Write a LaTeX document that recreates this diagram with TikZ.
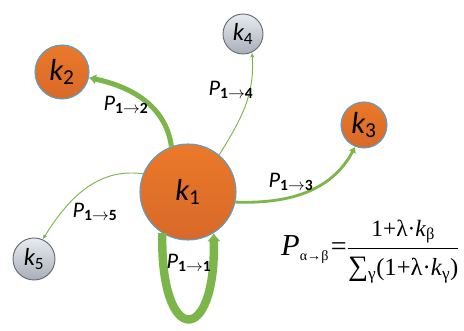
\documentclass[tikz,border=0pt]{standalone}
\usepackage{amsmath}
\usepackage{fontspec}
\setmainfont{Liberation Serif}
\newfontfamily\labfont{Carlito}
\usetikzlibrary{arrows.meta}
\usepackage{xcolor}
\definecolor{edgegreen}{RGB}{124,182,74}
\definecolor{ballorange}{RGB}{234,114,44}
\definecolor{ballrim}{RGB}{84,160,206}
\definecolor{greyrim}{RGB}{100,106,116}
\definecolor{greytop}{RGB}{232,235,240}
\definecolor{greybottom}{RGB}{168,174,186}
\newcommand{\kname}[1]{{\itshape k}\textsubscript{#1}}
\newcommand{\pname}[2]{{\itshape P}\textsubscript{\bfseries #1$\to$#2}}

\begin{document}
\begin{tikzpicture}[x=0.03cm,y=0.03cm,line cap=round,
  ball/.style={circle,draw=ballrim,line width=0.9pt,inner sep=0pt,
    top color=ballorange!95!yellow,bottom color=ballorange!92!black,
    font=\labfont\fontsize{26}{26}\selectfont},
  greyball/.style={circle,draw=greyrim,line width=0.8pt,inner sep=0pt,
    top color=greytop,bottom color=greybottom,
    font=\labfont\fontsize{21}{21}\selectfont},
  plabel/.style={font=\labfont\fontsize{19}{19}\selectfont,inner sep=1pt},
  thin edge/.style={draw=edgegreen,line width=0.8pt,line cap=butt,-{Latex[length=4pt,width=3.5pt]}},
  mid edge/.style={draw=edgegreen,line width=2.4pt,line cap=butt,-{Latex[length=5pt,width=7pt]}},
  thick edge/.style={draw=edgegreen,line width=4.3pt,line cap=butt,-{Latex[length=6pt,width=9pt]}},
  loop edge/.style={draw=edgegreen,line width=7.2pt,line cap=butt,-{Latex[length=7pt,width=12pt]}}]
\useasboundingbox (0,0) rectangle (464,331);
\node[ball,minimum size=2.88cm] (k1) at (188,139) {\kname{1}};
\node[ball,minimum size=1.62cm] (k2) at (62,259) {\kname{2}};
\node[ball,minimum size=1.38cm] (k3) at (364,206) {\kname{3}};
\node[greyball,minimum size=1.2cm] (k4) at (243,297) {\kname{4}};
\node[greyball,minimum size=1.26cm] (k5) at (34,72) {\kname{5}};
\draw[thick edge] (k1.110) to[out=98,in=-12] (k2.-12);
\draw[thin edge] (k1.50) to[out=58,in=-86] (k4.-64);
\draw[mid edge] (k1.-12) to[out=-2,in=-118] (k3.-112);
\draw[thin edge] (k1.158) to[out=172,in=58] (k5.66);
\draw[loop edge] (k1.-122) .. controls (160,-16) and (216,-16) .. (k1.-58);
\node[plabel] (p12) at (126,226) {\pname{1}{2}};
\node[plabel] (p14) at (231,241) {\pname{1}{4}};
\node[plabel] (p13) at (291,149) {\pname{1}{3}};
\node[plabel] (p15) at (95,119) {\pname{1}{5}};
\node[plabel] (p11) at (189,68) {\pname{1}{1}};
\node[anchor=base west,inner sep=0pt] (eq) at (281,75)
  {{\fontsize{26}{26}\selectfont\itshape P}\raisebox{-0.9ex}{\fontsize{12}{12}\selectfont α→β}\hspace{2pt}%
   {\fontsize{24}{24}\selectfont$\text{=}\genfrac{}{}{1.1pt}{0}%
   {\text{\fontsize{20}{21}\selectfont 1+λ·\textit{k}\textsubscript{β}}}%
   {\text{\fontsize{21}{22}\selectfont {\fontsize{24}{24}\selectfont ∑}\textsubscript{γ}(1+λ·\textit{k}\textsubscript{γ})}}$}};
\end{tikzpicture}
\end{document}
